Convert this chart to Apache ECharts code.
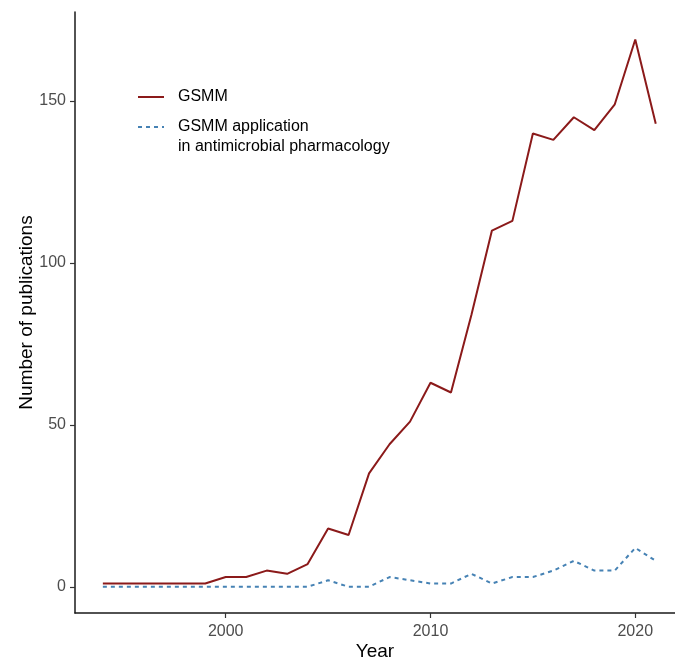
<!DOCTYPE html>
<html>
<head>
<meta charset="utf-8">
<script src="https://cdn.jsdelivr.net/npm/echarts@6/dist/echarts.min.js"></script>
<style>
  html, body { margin: 0; padding: 0; background: #fff; }
  #chart { width: 675px; height: 659px; }
</style>
</head>
<body>
<div id="chart"></div>
<script>
var years = [1994, 1995, 1996, 1997, 1998, 1999, 2000, 2001, 2002, 2003, 2004, 2005, 2006, 2007,
    2008, 2009, 2010, 2011, 2012, 2013, 2014, 2015, 2016, 2017, 2018, 2019, 2020, 2021];
var gsmm = [1, 1, 1, 1, 1, 1, 3, 3, 5, 4, 7, 18, 16, 35,
    44, 51, 63, 60, 84, 110, 113, 140, 138, 145, 141, 149, 169, 143];
var application = [0, 0, 0, 0, 0, 0, 0, 0, 0, 0, 0, 2, 0, 0,
    3, 2, 1, 1, 4, 1, 3, 3, 5, 8, 5, 5, 12, 8];
var xTicks = [2000, 2010, 2020];
var yTicks = [0, 50, 100, 150];

var nameGsmm = 'GSMM';
var nameApp = 'GSMM application\nin antimicrobial pharmacology';

function pairs(values) {
    var out = [];
    for (var i = 0; i < years.length; i++) {
        out.push([years[i], values[i]]);
    }
    return out;
}

// legend label: every line gets a left pad so the text sits away from the key
function legendLabel(name) {
    var lines = name.split('\n');
    var out = lines.map(function (l) { return '{t|' + l + '}'; }).join('\n');
    // extra empty first line keeps the key level with the first text line
    if (lines.length > 1) {
        out = '{t|}\n' + out;
    }
    return out;
}

var font = 'Liberation Sans, Arial, sans-serif';
var legendText = {
    fontFamily: font, fontSize: 16, color: '#000', lineHeight: 20,
    rich: { t: { fontFamily: font, fontSize: 16, color: '#000', lineHeight: 20, padding: [0, 0, 0, 9] } }
};

var myChart = echarts.init(document.getElementById('chart'));
myChart.setOption({
    animation: false,
    textStyle: { fontFamily: font },
    grid: { left: 75, right: 0, top: 12, bottom: 46, containLabel: false, outerBoundsMode: 'none' },
    legend: [
        {
            orient: 'vertical',
            left: 137,
            top: 87,
            padding: 0,
            itemWidth: 26,
            itemHeight: 14,
            itemStyle: { opacity: 0 },
            formatter: legendLabel,
            textStyle: legendText,
            data: [nameGsmm]
        },
        {
            orient: 'vertical',
            left: 137,
            top: 97,
            padding: 0,
            itemWidth: 26,
            itemHeight: 14,
            itemStyle: { opacity: 0 },
            formatter: legendLabel,
            textStyle: legendText,
            data: [nameApp]
        }
    ],
    xAxis: {
        type: 'value',
        min: 1992.64,
        max: 2021.94,
        name: 'Year',
        nameLocation: 'middle',
        nameGap: 29,
        nameMoveOverlap: false,
        nameTextStyle: { fontSize: 19, color: '#000' },
        splitLine: { show: false },
        axisLine: { show: true, onZero: false, lineStyle: { color: '#1a1a1a', width: 1.5 } },
        axisTick: { show: true, length: 5, customValues: xTicks, lineStyle: { color: '#333', width: 1.2 } },
        axisLabel: {
            customValues: xTicks, fontSize: 16, color: '#4d4d4d', margin: 11,
            formatter: function (v) { return String(v); }
        }
    },
    yAxis: {
        type: 'value',
        min: -8.1,
        max: 177.5,
        name: 'Number of publications',
        nameLocation: 'middle',
        nameGap: 39,
        nameMoveOverlap: false,
        nameTextStyle: { fontSize: 19, color: '#000' },
        splitLine: { show: false },
        axisLine: { show: true, onZero: false, lineStyle: { color: '#1a1a1a', width: 1.5 } },
        axisTick: { show: true, length: 5, customValues: yTicks, lineStyle: { color: '#333', width: 1.2 } },
        axisLabel: { customValues: yTicks, fontSize: 16, color: '#4d4d4d', margin: 9 }
    },
    series: [
        {
            name: nameGsmm,
            type: 'line',
            data: pairs(gsmm),
            showSymbol: false,
            symbol: 'none',
            itemStyle: { color: '#8b1a1a' },
            lineStyle: { color: '#8b1a1a', width: 2 }
        },
        {
            name: nameApp,
            type: 'line',
            data: pairs(application),
            showSymbol: false,
            symbol: 'none',
            itemStyle: { color: '#4682b4' },
            lineStyle: { color: '#4682b4', width: 2, type: [4, 4] }
        }
    ]
});
</script>
</body>
</html>
